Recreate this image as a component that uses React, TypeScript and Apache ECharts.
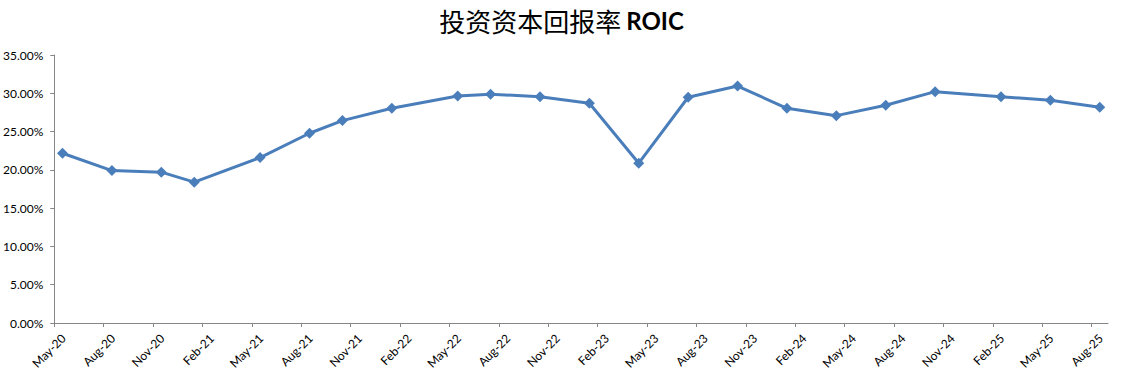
import { useEffect, useRef } from 'react';
import * as echarts from 'echarts';

const periods = [
  '2020-05', '2020-08', '2020-11', '2021-01', '2021-05', '2021-08', '2021-10',
  '2022-01', '2022-05', '2022-07', '2022-10', '2023-01', '2023-04', '2023-07',
  '2023-10', '2024-01', '2024-04', '2024-07', '2024-10', '2025-02', '2025-05', '2025-08',
];
const roic = [
  22.17, 19.9, 19.7, 18.39, 21.6, 24.78, 26.43, 28.04, 29.65, 29.87, 29.56,
  28.7, 20.87, 29.48, 30.95, 28.04, 27.08, 28.43, 30.21, 29.56, 29.09, 28.17,
];
const xTickLabels = [
  'May-20', 'Aug-20', 'Nov-20', 'Feb-21', 'May-21', 'Aug-21', 'Nov-21', 'Feb-22',
  'May-22', 'Aug-22', 'Nov-22', 'Feb-23', 'May-23', 'Aug-23', 'Nov-23', 'Feb-24',
  'May-24', 'Aug-24', 'Nov-24', 'Feb-25', 'May-25', 'Aug-25',
];
const yTickValues = [0, 5, 10, 15, 20, 25, 30, 35];

// months since May 2020, placed mid-month
const monthIndex = (p: string) => {
  const [y, m] = p.split('-').map(Number);
  return (y - 2020) * 12 + (m - 5) + 0.5;
};

export default function App() {
  const ref = useRef<HTMLDivElement>(null);
  useEffect(() => {
    document.body.style.margin = '0';
    const chart = echarts.init(ref.current!, null, { renderer: 'svg' });
    const tickPos = xTickLabels.map((_, i) => i * 3);
    const axisColor = '#868686';
    const labelFont = 'Lato, "Liberation Sans", sans-serif';
    chart.setOption({
      animation: false,
      backgroundColor: '#fff',
      title: {
        text: '{a|投资资本回报率} {b|ROIC}',
        left: 'center',
        top: 2,
        textStyle: {
          rich: {
            a: { fontFamily: '"Noto Sans CJK SC"', fontSize: 26, color: '#000', fontWeight: 'normal' },
            b: { fontFamily: 'Lato', fontSize: 24, color: '#000', fontWeight: 'bold' },
          },
        },
      },
      grid: { left: 53, right: 15, top: 55, bottom: 58, containLabel: false },
      xAxis: {
        type: 'value',
        min: 0,
        max: 64,
        interval: 3,
        splitLine: { show: false },
        axisLine: { show: true, lineStyle: { color: axisColor, width: 1 } },
        axisTick: { show: true, length: 4, lineStyle: { color: axisColor }, customValues: tickPos },
        axisLabel: {
          customValues: tickPos,
          rotate: 45,
          margin: 4,
          align: 'right',
          verticalAlign: 'top',
          padding: [7, 0, 0, 0],
          color: '#000',
          fontFamily: labelFont,
          fontSize: 12,
          formatter: (v: number) => xTickLabels[Math.round(v / 3)] ?? '',
        },
      },
      yAxis: {
        type: 'value',
        min: yTickValues[0],
        max: yTickValues[yTickValues.length - 1],
        interval: 5,
        splitLine: { show: false },
        axisLine: { show: true, lineStyle: { color: axisColor, width: 1 } },
        axisTick: { show: true, length: 4, lineStyle: { color: axisColor } },
        axisLabel: {
          margin: 11,
          color: '#000',
          fontFamily: labelFont,
          fontSize: 12,
          formatter: (v: number) => v.toFixed(2) + '%',
        },
      },
      series: [
        {
          type: 'line',
          data: periods.map((p, i) => [monthIndex(p), roic[i]]),
          symbol: 'diamond',
          symbolSize: 11,
          lineStyle: { color: '#4A7EBB', width: 3 },
          itemStyle: { color: '#4A7EBB' },
        },
      ],
    });
    return () => chart.dispose();
  }, []);
  return <div ref={ref} style={{ width: 1123, height: 381 }} />;
}
